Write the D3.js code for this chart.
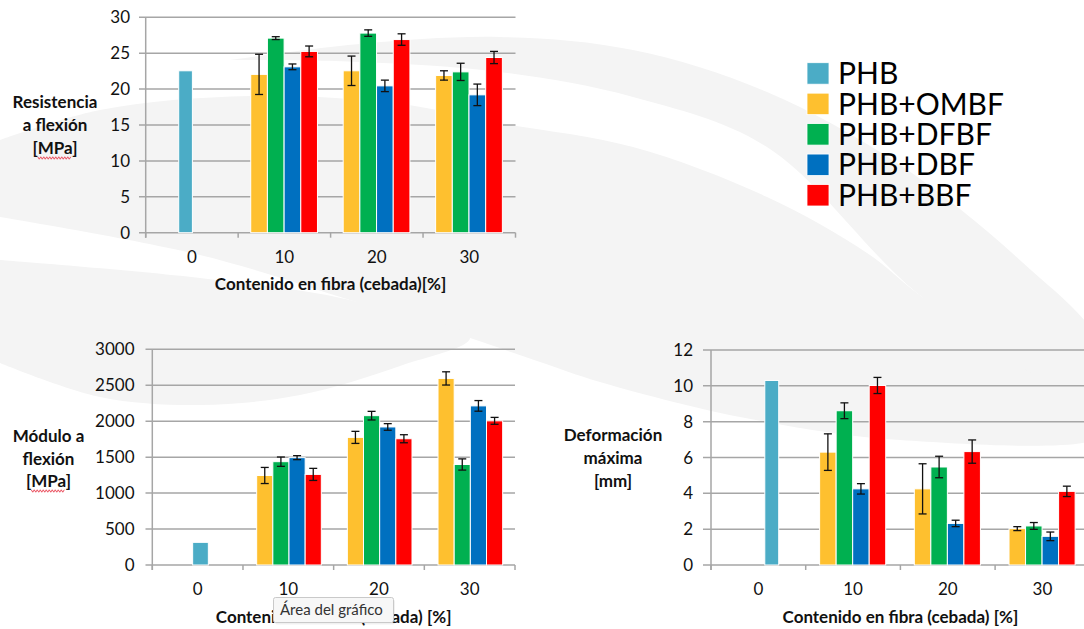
<!DOCTYPE html>
<html>
<head>
<meta charset="utf-8">
<script src="https://cdn.jsdelivr.net/npm/d3@7"></script>
<style>
  html, body { margin: 0; padding: 0; background: #ffffff; }
  svg { display: block; }
  text { font-family: Lato, "Open Sans", "DejaVu Sans", sans-serif; }
</style>
</head>
<body>
<svg id="fig" width="1084" height="629"></svg>
<script>
// ---- data -------------------------------------------------------------
const categories = ["0", "10", "20", "30"];
const fiberCategories = ["10", "20", "30"];
const fiberSeries = ["PHB+OMBF", "PHB+DFBF", "PHB+DBF", "PHB+BBF"];
const legendLabels = ["PHB", "PHB+OMBF", "PHB+DFBF", "PHB+DBF", "PHB+BBF"];
const seriesColors = ["#4BACC6", "#FEC02F", "#00B050", "#0070C0", "#FF0000"];

// Resistencia a flexión [MPa]
const strengthTicks = [0, 5, 10, 15, 20, 25, 30];
const strengthPHB = 22.55;
const strengthOMBF = [22.05, 22.55, 21.9];
const strengthDFBF = [27.1, 27.8, 22.4];
const strengthDBF  = [23.1, 20.45, 19.2];
const strengthBBF  = [25.25, 26.9, 24.4];
const strengthErrOMBF = [2.8, 2.05, 0.65];
const strengthErrDFBF = [0.2, 0.45, 1.2];
const strengthErrDBF  = [0.4, 0.8, 1.5];
const strengthErrBBF  = [0.75, 0.8, 0.85];

// Módulo a flexión [MPa]
const modulusTicks = [0, 500, 1000, 1500, 2000, 2500, 3000];
const modulusPHB = 315;
const modulusOMBF = [1245, 1775, 2595];
const modulusDFBF = [1437, 2077, 1398];
const modulusDBF  = [1493, 1920, 2213];
const modulusBBF  = [1260, 1756, 2005];
const modulusErrOMBF = [112, 84, 92];
const modulusErrDFBF = [65, 60, 78];
const modulusErrDBF  = [28, 46, 74];
const modulusErrBBF  = [84, 56, 48];

// Deformación máxima [mm]
const strainTicks = [0, 2, 4, 6, 8, 10, 12];
const strainPHB = 10.3;
const strainOMBF = [6.3, 4.25, 2.03];
const strainDFBF = [8.61, 5.47, 2.18];
const strainDBF  = [4.25, 2.32, 1.6];
const strainBBF  = [10.02, 6.33, 4.11];
const strainErrOMBF = [1.02, 1.4, 0.11];
const strainErrDFBF = [0.44, 0.6, 0.19];
const strainErrDBF  = [0.29, 0.18, 0.24];
const strainErrBBF  = [0.45, 0.65, 0.29];

// ---- drawing ----------------------------------------------------------
const svg = d3.select("#fig");
const GRID = "#a6a6a6";

// soft background swooshes
const bgLine = d3.line().curve(d3.curveCatmullRom.alpha(0.5));
const swooshes = [
  [[230,60],[360,44],[500,37],[633,50],[767,92],[900,165],[1022,262],[1100,345],
   [1100,420],[917,293],[767,147],[633,97],[500,72],[360,62],[230,60]],
  [[0,140],[100,110],[250,96],[400,104],[500,123],[633,147],[767,197],[867,253],[917,293],
   [1010,360],[1100,420],[1100,437],[900,440],[740,417],[600,382],[540,362],[470,338],
   [350,300],[200,255],[0,217]],
  [[0,260],[200,278],[350,300],[470,338],[400,366],[300,395],[200,405],[100,397],[0,363]]
];
const bg = svg.append("g").attr("class", "backdrop");
swooshes.forEach(pts => bg.append("path").attr("d", bgLine(pts) + "Z").attr("fill", "#f4f4f4"));

function squiggle(g, x0, x1, y) {
  const pts = [];
  for (let x = x0, i = 0; x <= x1; x += 1.5, i++) pts.push([x, y + (i % 2 ? 1.2 : -1.2)]);
  g.append("path").attr("d", d3.line()(pts)).attr("fill", "none")
    .attr("stroke", "#e8394a").attr("stroke-width", 0.9);
}

function drawPanel(cfg) {
  const g = svg.append("g");
  const x = d3.scaleBand().domain(categories).range([cfg.x0, cfg.x1]).padding(0);
  const bw = x.bandwidth();
  const y = d3.scaleLinear().domain([0, d3.max(cfg.ticks)]).range([cfg.y0, cfg.yTop]);

  // horizontal gridlines with left tick stubs
  g.append("g").selectAll("line").data(cfg.ticks).join("line")
    .attr("x1", cfg.gridStart).attr("x2", cfg.x1)
    .attr("y1", d => y(d)).attr("y2", d => y(d))
    .attr("stroke", GRID).attr("stroke-width", 1.5);

  // y tick labels
  g.append("g").selectAll("text").data(cfg.ticks).join("text")
    .attr("x", cfg.labelRight).attr("y", d => y(d)).attr("dy", "0.36em")
    .attr("text-anchor", "end").attr("font-size", 17).attr("fill", "#111")
    .text(d => d);

  // value axis line
  g.append("line").attr("x1", cfg.x0).attr("x2", cfg.x0)
    .attr("y1", y(d3.max(cfg.ticks))).attr("y2", cfg.y0 + 5)
    .attr("stroke", GRID).attr("stroke-width", 1.5);

  // category boundary ticks
  const bounds = categories.map(c => x(c)).concat([cfg.x1]);
  g.append("g").selectAll("line").data(bounds).join("line")
    .attr("x1", d => d).attr("x2", d => d)
    .attr("y1", cfg.y0).attr("y2", cfg.y0 + 5)
    .attr("stroke", GRID).attr("stroke-width", 1.5);

  // category labels
  g.append("g").selectAll("text").data(categories).join("text")
    .attr("x", d => x(d) + bw / 2).attr("y", cfg.catLabelY)
    .attr("text-anchor", "middle").attr("font-size", 17).attr("fill", "#111")
    .text(d => d);

  // neat PHB bar
  const phbX = x("0") + bw * cfg.phbSpan[0];
  g.append("rect")
    .attr("x", phbX).attr("width", bw * (cfg.phbSpan[1] - cfg.phbSpan[0]))
    .attr("y", y(cfg.phb)).attr("height", y(0) - y(cfg.phb))
    .attr("fill", seriesColors[0]).attr("stroke", "#fff").attr("stroke-width", 1);

  // fibre-filled composites
  const inner = d3.scaleBand().domain(fiberSeries)
    .range([bw * cfg.groupSpan[0], bw * cfg.groupSpan[1]]).padding(0);
  const rows = [];
  fiberSeries.forEach((s, si) => {
    fiberCategories.forEach((c, ci) => {
      rows.push({ s, c, v: cfg.values[si][ci], e: cfg.errors[si][ci], color: seriesColors[si + 1] });
    });
  });
  g.append("g").selectAll("rect").data(rows).join("rect")
    .attr("x", d => x(d.c) + inner(d.s)).attr("width", inner.bandwidth())
    .attr("y", d => y(d.v)).attr("height", d => y(0) - y(d.v))
    .attr("fill", d => d.color).attr("stroke", "#fff").attr("stroke-width", 1);

  // error bars
  const eb = g.append("g").attr("stroke", "#111").attr("stroke-width", 1.3);
  rows.forEach(d => {
    const cx = x(d.c) + inner(d.s) + inner.bandwidth() / 2;
    const yHi = y(d.v + d.e), yLo = y(d.v - d.e);
    eb.append("line").attr("x1", cx).attr("x2", cx).attr("y1", yHi).attr("y2", yLo);
    eb.append("line").attr("x1", cx - 4).attr("x2", cx + 4).attr("y1", yHi).attr("y2", yHi);
    eb.append("line").attr("x1", cx - 4).attr("x2", cx + 4).attr("y1", yLo).attr("y2", yLo);
  });

  // axis titles
  g.append("text")
    .attr("x", (cfg.x0 + cfg.x1) / 2).attr("y", cfg.xTitleY)
    .attr("text-anchor", "middle").attr("font-size", 17).attr("font-weight", 700).attr("fill", "#111")
    .text(cfg.xTitle);

  cfg.yTitle.forEach((line, i) => {
    const t = g.append("text")
      .attr("x", cfg.yTitleX).attr("y", cfg.yTitleY[i])
      .attr("text-anchor", "middle").attr("font-size", 17).attr("font-weight", 700).attr("fill", "#111")
      .text(line);
    if (line === "[MPa]") {
      const node = t.node();
      const start = node.getStartPositionOfChar(1).x;
      const end = node.getEndPositionOfChar(3).x;
      squiggle(g, start, end, cfg.yTitleY[i] + 4);
    }
  });
  return g;
}

drawPanel({
  ticks: strengthTicks, phb: strengthPHB,
  values: [strengthOMBF, strengthDFBF, strengthDBF, strengthBBF],
  errors: [strengthErrOMBF, strengthErrDFBF, strengthErrDBF, strengthErrBBF],
  x0: 145.7, x1: 515.5, y0: 232.7, yTop: 17.3,
  gridStart: 139, labelRight: 130, catLabelY: 263,
  phbSpan: [0.357, 0.505], groupSpan: [0.136, 0.858],
  xTitle: "Contenido en fibra (cebada)[%]", xTitleY: 290,
  yTitle: ["Resistencia", "a flexión", "[MPa]"], yTitleX: 55, yTitleY: [108, 131, 154]
});

drawPanel({
  ticks: modulusTicks, phb: modulusPHB,
  values: [modulusOMBF, modulusDFBF, modulusDBF, modulusBBF],
  errors: [modulusErrOMBF, modulusErrDFBF, modulusErrDBF, modulusErrBBF],
  x0: 152.3, x1: 515, y0: 565, yTop: 349.3,
  gridStart: 145.5, labelRight: 134.5, catLabelY: 595,
  phbSpan: [0.445, 0.618], groupSpan: [0.151, 0.864],
  xTitle: "Contenido en fibra (cebada) [%]", xTitleY: 623,
  yTitle: ["Módulo a", "flexión", "[MPa]"], yTitleX: 48.5, yTitleY: [441.5, 464.5, 487]
});

drawPanel({
  ticks: strainTicks, phb: strainPHB,
  values: [strainOMBF, strainDFBF, strainDBF, strainBBF],
  errors: [strainErrOMBF, strainErrDFBF, strainErrDBF, strainErrBBF],
  x0: 711, x1: 1089.8, y0: 565, yTop: 350,
  gridStart: 703, labelRight: 693, catLabelY: 595,
  phbSpan: [0.568, 0.715], groupSpan: [0.147, 0.845],
  xTitle: "Contenido en fibra (cebada) [%]", xTitleY: 623,
  yTitle: ["Deformación", "máxima", "[mm]"], yTitleX: 613, yTitleY: [441, 464, 487]
});

// legend
const legend = svg.append("g");
legendLabels.forEach((lab, i) => {
  const top = 62.7 + i * 30.45;
  legend.append("rect").attr("x", 807).attr("y", top).attr("width", 22).attr("height", 21.5)
    .attr("fill", seriesColors[i]).attr("stroke", "#fff").attr("stroke-width", 0.8);
  legend.append("text").attr("x", 838).attr("y", top + 21.4)
    .attr("font-size", 30).attr("fill", "#000").text(lab);
});

// hover tooltip over the lower-left plot area
const tip = svg.append("g");
tip.append("rect").attr("x", 275).attr("y", 599.5).attr("width", 120).attr("height", 25)
  .attr("rx", 2).attr("fill", "#000").attr("opacity", 0.06);
tip.append("rect").attr("x", 273.5).attr("y", 597.5).attr("width", 120).attr("height", 25)
  .attr("rx", 2).attr("fill", "#f7f7f7").attr("stroke", "#c9c9c9").attr("stroke-width", 1);
tip.append("text").attr("x", 280).attr("y", 615).attr("font-size", 15).attr("fill", "#333")
  .text("Área del gráfico");
</script>
</body>
</html>
